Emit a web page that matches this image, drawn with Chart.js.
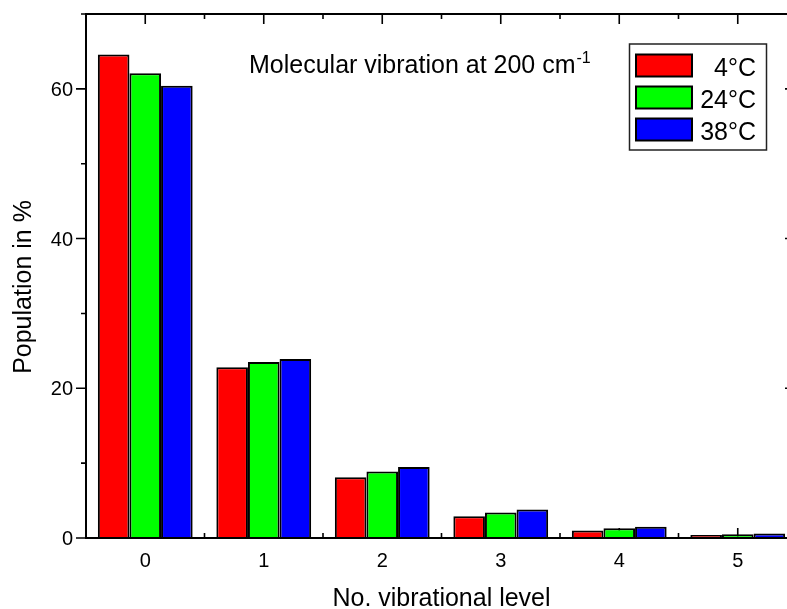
<!DOCTYPE html>
<html>
<head>
<meta charset="utf-8">
<script src="https://cdn.jsdelivr.net/npm/chart.js@4.4.1/dist/chart.umd.min.js"></script>
<style>
  html, body { margin: 0; padding: 0; background: #fff; overflow: hidden; }
  canvas { display: block; }
</style>
</head>
<body>
<canvas id="c" width="787" height="609"></canvas>
<script>
// Vibrational level populations (%) for a 200 cm-1 mode at three temperatures
const levels = ['0', '1', '2', '3', '4', '5'];
const pop4C  = [64.6, 22.8, 8.1, 2.9, 1.0, 0.4];
const pop24C = [62.1, 23.5, 8.9, 3.4, 1.3, 0.5];
const pop38C = [60.4, 23.9, 9.5, 3.8, 1.5, 0.6];
const seriesNames = ['4\u00B0C', '24\u00B0C', '38\u00B0C'];
const seriesColors = ['#ff0000', '#00ff00', '#0000ff'];
const yTickLabels = ['0', '20', '40', '60'];
const yMinorTicks = [10, 30, 50, 70];

const FONT = '"Liberation Sans", Arial, Helvetica, sans-serif';
const PLOT_RIGHT = 797; // the plot frame runs a little past the canvas edge

// Frame, tick marks, labels, title and legend drawn around the chart scales
const decorations = {
  id: 'decorations',
  afterLayout(chart) {
    const xs = chart.scales.x;
    xs.right = PLOT_RIGHT;
    xs.width = xs.right - xs.left;
    xs.configure();
    chart.chartArea.right = PLOT_RIGHT;
    chart.chartArea.width = PLOT_RIGHT - chart.chartArea.left;
  },
  beforeDatasetsDraw(chart) {
    const ctx = chart.ctx;
    const a = chart.chartArea;
    const xs = chart.scales.x, ys = chart.scales.y;
    ctx.save();
    ctx.strokeStyle = '#000';
    ctx.lineWidth = 1.6;
    ctx.beginPath();
    // y axis: outward ticks on the left, inward on the right
    yTickLabels.forEach(t => {
      const y = ys.getPixelForValue(Number(t));
      ctx.moveTo(a.left - 10, y); ctx.lineTo(a.left, y);
      ctx.moveTo(a.right, y); ctx.lineTo(a.right - 12, y);
    });
    yMinorTicks.forEach(v => {
      const y = ys.getPixelForValue(v);
      ctx.moveTo(a.left - 5, y); ctx.lineTo(a.left, y);
      ctx.moveTo(a.right, y); ctx.lineTo(a.right - 6, y);
    });
    // x axis: inward ticks on top and bottom, minor ones between levels
    levels.forEach((l, i) => {
      const x = xs.getPixelForValue(i);
      ctx.moveTo(x, a.top); ctx.lineTo(x, a.top + 10);
      ctx.moveTo(x, a.bottom); ctx.lineTo(x, a.bottom - 10);
      if (i < levels.length - 1) {
        const xm = (x + xs.getPixelForValue(i + 1)) / 2;
        ctx.moveTo(xm, a.top); ctx.lineTo(xm, a.top + 5);
        ctx.moveTo(xm, a.bottom); ctx.lineTo(xm, a.bottom - 5);
      }
    });
    ctx.stroke();
    ctx.restore();
  },
  afterDatasetsDraw(chart) {
    const ctx = chart.ctx;
    const a = chart.chartArea;
    const xs = chart.scales.x, ys = chart.scales.y;
    ctx.save();
    // plot frame
    ctx.strokeStyle = '#000';
    ctx.lineWidth = 2;
    ctx.strokeRect(a.left, a.top, a.right - a.left, a.bottom - a.top);

    ctx.fillStyle = '#000';
    // y tick labels
    ctx.font = '20px ' + FONT;
    ctx.textAlign = 'right';
    ctx.textBaseline = 'alphabetic';
    yTickLabels.forEach(t => {
      ctx.fillText(t, a.left - 13, ys.getPixelForValue(Number(t)) + 7);
    });
    // x tick labels
    ctx.textAlign = 'center';
    levels.forEach((l, i) => {
      ctx.fillText(l, xs.getPixelForValue(i), 567);
    });

    // axis titles
    ctx.font = '25px ' + FONT;
    ctx.fillText('No. vibrational level', (a.left + a.right) / 2, 606);
    ctx.save();
    ctx.translate(31, 287);
    ctx.rotate(-Math.PI / 2);
    ctx.fillText('Population in %', 0, 0);
    ctx.restore();

    // chart title with superscript
    ctx.textAlign = 'left';
    ctx.font = '25px ' + FONT;
    const main = 'Molecular vibration at 200 cm';
    ctx.fillText(main, 249, 73);
    const w = ctx.measureText(main).width;
    ctx.font = '16px ' + FONT;
    ctx.fillText('-1', 249 + w + 1, 63);

    // legend box
    ctx.lineWidth = 1.5;
    ctx.strokeStyle = '#222';
    ctx.strokeRect(629.5, 44, 137, 106);
    ctx.font = '25px ' + FONT;
    ctx.textAlign = 'right';
    chart.data.datasets.forEach((ds, i) => {
      const top = 54.5 + i * 32;
      ctx.fillStyle = ds.backgroundColor;
      ctx.fillRect(636, top, 56, 22);
      ctx.lineWidth = 2;
      ctx.strokeStyle = '#000';
      ctx.strokeRect(636, top, 56, 22);
      ctx.fillStyle = '#000';
      ctx.fillText(ds.label, 756, top + 21.5);
    });
    ctx.restore();
  }
};

const seriesData = [pop4C, pop24C, pop38C];

new Chart(document.getElementById('c'), {
  type: 'bar',
  data: {
    labels: levels,
    datasets: seriesNames.map((name, i) => ({
      label: name,
      data: seriesData[i],
      backgroundColor: seriesColors[i],
      borderColor: '#000',
      borderWidth: 2,
      categoryPercentage: 0.8,
      barPercentage: 1.0
    }))
  },
  options: {
    responsive: false,
    animation: false,
    events: [],
    layout: { padding: { left: 0, top: 14, right: 0, bottom: 0 } },
    plugins: { legend: { display: false }, tooltip: { enabled: false }, title: { display: false } },
    scales: {
      x: {
        type: 'category',
        offset: true,
        grid: { display: false },
        border: { display: false },
        ticks: { display: false },
        afterFit(s) { s.height = 71; }
      },
      y: {
        min: 0,
        max: 70,
        grid: { display: false },
        border: { display: false },
        ticks: { display: false, stepSize: 10 },
        afterFit(s) { s.width = 86; }
      }
    }
  },
  plugins: [decorations]
});
</script>
</body>
</html>
